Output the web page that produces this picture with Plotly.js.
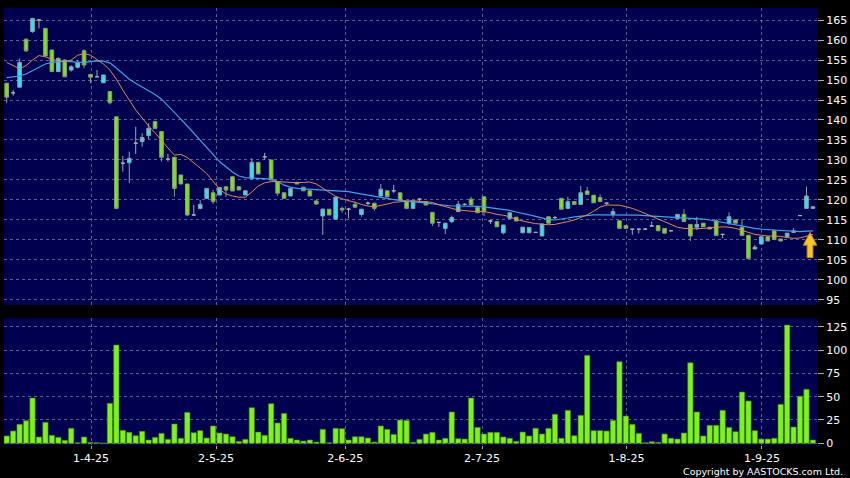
<!DOCTYPE html>
<html><head><meta charset="utf-8">
<script src="https://cdn.plot.ly/plotly-3.0.1.min.js"></script>
<style>html,body{margin:0;padding:0;background:#000;}#chart{width:850px;height:478px;}</style>
</head><body><div id="chart"></div>
<script>
// ---- data (index = trading day) ----
const openP  = [149.2,146.8,148.2,160.2,162.1,165.0,162.9,157.5,152.1,155.0,152.5,153.2,157.3,151.4,150.8,149.3,147.1,140.8,129.2,129.3,
                134.2,134.6,136.1,139.6,137.1,130.2,130.7,126.25,124.0,116.25,117.9,120.4,121.8,121.25,123.3,125.8,123.3,121.25,125.4,129.4,
                130.8,130.0,124.6,121.8,121.0,124.4,123.2,122.3,119.75,116.0,117.7,115.2,117.9,117.7,118.9,116.4,119.2,119.2,121.0,122.3,
                122.3,121.8,119.6,117.9,120.2,119.6,116.9,114.4,112.9,114.6,117.1,118.9,120.2,118.1,120.8,114.75,114.6,111.8,115.4,115.7,
                111.8,111.8,111.9,111.0,115.8,115.6,120.4,117.9,119.6,118.9,122.25,121.2,120.6,119.2,116.4,114.8,113.6,112.7,112.7,112.7,
                113.5,113.6,112.9,112.3,115.4,116.4,113.9,113.2,114.2,113.2,114.8,111.4,114.2,115.0,113.2,111.2,107.75,109.0,110.8,112.3,
                110.25,110.8,111.9,116.1,117.9,117.9];
const highP  = [149.2,147.5,155.4,160.4,165.5,165.0,163.0,157.6,155.6,155.2,153.7,155.0,157.7,151.4,152.5,151.3,147.1,140.8,131.0,132.1,
                138.3,136.7,139.2,139.8,137.2,131.5,130.7,126.3,124.0,118.75,120.0,122.9,122.5,123.1,123.3,126.0,123.5,122.3,130.4,129.4,
                131.8,130.0,124.6,121.8,122.9,124.6,123.2,122.3,120.0,117.9,117.7,120.8,118.3,118.0,119.6,117.7,119.6,119.2,124.0,122.3,
                123.75,121.8,119.6,119.75,120.4,119.6,116.9,114.4,114.2,116.1,119.75,119.2,120.8,118.1,120.8,115.0,114.6,113.75,116.8,115.7,
                113.2,113.1,111.9,114.0,115.8,116.0,120.4,120.8,119.6,123.5,123.3,121.2,121.4,119.2,117.9,114.8,113.6,112.7,112.7,113.0,
                114.6,113.6,112.9,112.3,116.4,117.7,113.9,115.8,114.2,113.2,115.2,111.4,116.9,115.2,115.2,111.2,108.75,110.8,110.8,112.3,
                110.25,111.7,113.0,116.1,123.3,118.3];
const lowP   = [144.2,146.1,148.2,157.0,161.8,162.9,156.0,152.1,152.0,150.8,152.1,152.9,152.9,149.2,150.8,149.3,143.9,117.9,127.1,124.2,
                131.5,133.3,135.2,137.9,129.6,129.6,120.8,124.0,116.0,116.25,117.7,120.2,119.0,121.25,120.7,122.25,122.5,121.25,125.0,126.5,
                130.0,125.0,121.0,120.4,121.0,124.0,122.3,121.0,118.75,111.25,116.25,115.0,116.8,115.4,118.2,115.8,118.75,117.3,120.8,120.8,
                121.8,120.0,117.9,117.9,119.6,118.75,113.5,113.3,111.5,114.2,117.1,118.6,118.75,116.8,116.0,114.0,113.3,111.4,115.4,114.75,
                111.8,111.8,111.9,111.0,114.2,115.2,117.7,117.9,118.9,118.9,121.4,119.3,119.6,118.6,115.6,112.9,112.9,111.3,111.6,112.7,
                113.5,112.3,111.7,112.3,115.4,114.6,109.75,112.5,113.3,112.75,111.1,110.4,113.75,114.2,111.1,105.4,107.75,109.0,109.75,110.1,
                109.75,110.8,111.9,116.1,117.9,117.9];
const closeP = [145.7,146.8,154.4,157.3,165.4,165.0,156.0,152.1,155.4,150.8,153.3,154.3,153.75,150.7,150.8,151.25,144.3,117.9,129.2,130.4,
                134.2,135.6,137.9,137.9,130.7,130.2,122.9,124.0,116.25,116.25,118.9,122.9,119.6,123.1,122.5,122.25,122.5,122.3,129.4,126.5,
                130.8,125.0,121.7,120.4,122.9,124.0,122.3,121.0,119.0,117.7,116.25,120.7,117.5,117.7,118.2,117.7,119.2,117.9,122.7,120.8,
                122.3,120.0,117.9,119.75,120.2,118.75,114.2,114.4,114.2,115.6,118.9,118.9,118.75,116.8,117.1,114.75,113.3,113.75,116.8,114.75,
                113.2,113.1,111.9,114.0,114.2,115.6,117.7,119.6,118.9,121.8,121.4,119.3,119.6,119.2,117.1,112.9,112.9,112.7,112.7,112.7,
                113.5,112.3,111.7,112.3,116.4,114.6,111.0,113.9,113.3,112.75,111.1,111.4,115.8,114.2,111.1,105.4,108.2,110.8,109.75,110.1,
                109.75,111.7,112.3,116.1,121.0,118.3];
const volume = [7.9,13.2,20.4,24.3,48.6,6.8,22.5,8.6,6.4,3.2,16.1,0.7,6.8,1.1,0.7,0.4,42.9,105.4,13.9,11.8,
                8.2,12.9,3.6,6.4,10.7,4.3,20.7,5.4,33.2,11.4,13.6,5.7,18.6,11.1,10,7.1,2.1,4.3,38.2,12.1,
                8.6,42.5,21.8,32.1,5.4,3.6,2.5,3.6,1.4,15,0.7,16.1,15.7,3.6,7.1,7.1,5.7,1.4,18.6,15,
                9.6,25,24.6,1.1,4.3,10,11.8,3.6,5.4,33.6,5,4.6,48.6,17.1,10,11.8,11.8,6.8,5.4,2.1,
                12.1,7.9,16.1,10,16.1,31.1,5.4,35.4,8.2,30,94.3,13.6,13.6,13.2,24.6,87.5,29.3,20.4,10.7,0.7,
                1.8,1.1,10,5.4,4.6,11.1,86.4,33.6,7.9,19.3,19.3,35.4,17.1,12.5,55,45.4,13.6,4.6,4.6,5.4,
                41.8,126.8,17.5,50.4,57.9,3.6];
const ma10 = [154.4,153.6,152.8,153.6,155.0,156.1,155.8,155.2,154.8,154.6,155.0,156.2,156.6,156.2,155.2,154.0,152.5,150.2,147.5,145.0,
              142.5,140.5,138.5,136.8,134.8,133.0,131.2,131.4,130.6,129.4,128.0,126.6,124.6,122.7,121.5,121.0,120.7,120.7,122.0,123.5,
              124.3,124.6,124.6,124.5,124.3,124.3,124.4,124.5,124.0,123.0,121.8,120.9,120.3,119.9,119.4,118.9,118.5,118.3,118.6,119.0,
              119.4,119.6,119.7,119.8,119.7,119.6,119.4,118.8,118.3,117.9,117.5,117.3,117.2,117.1,117.1,116.8,116.4,116.2,115.8,115.1,
              114.7,114.4,114.1,113.9,113.8,113.9,114.2,114.6,115.0,115.6,116.3,117.2,118.2,118.75,118.75,118.7,118.3,117.9,117.3,116.6,
              115.8,115.2,114.4,113.8,113.2,112.9,112.8,112.8,112.9,113.0,113.2,113.3,113.2,112.9,112.4,111.9,111.4,111.2,111.0,111.0,
              110.9,110.6,110.4,110.5,111.0,111.4];
const ma20 = [150.6,150.8,151.0,151.5,152.3,153.3,154.0,154.4,154.6,154.7,154.6,154.4,154.4,154.6,154.8,154.7,154.3,153.0,151.5,150.2,
              149.2,148.3,147.4,146.4,145.2,143.6,142.0,140.2,138.5,136.7,134.8,133.0,131.2,129.6,128.3,127.0,126.0,125.6,125.5,125.4,
              125.4,125.2,124.6,123.7,123.2,122.9,122.8,122.7,122.6,122.5,122.4,122.4,122.3,122.1,121.8,121.5,121.2,120.9,120.6,120.3,
              120.1,119.9,119.8,119.6,119.4,119.2,119.0,118.8,118.6,118.5,118.5,118.5,118.5,118.4,118.3,118.1,117.9,117.7,117.4,117.0,
              116.7,116.3,115.9,115.5,115.1,115.0,115.2,115.5,115.8,116.0,116.2,116.3,116.3,116.3,116.3,116.3,116.3,116.2,116.2,116.1,
              116.0,115.9,115.8,115.7,115.7,115.6,115.5,115.4,115.2,115.0,114.7,114.4,114.1,113.7,113.4,113.1,112.9,112.7,112.6,112.4,
              112.3,112.2,112.1,112.1,112.2,112.3];
const tickText = ["1-4-25","2-5-25","2-6-25","2-7-25","1-8-25","1-9-25"];
const tickPos  = [13.07, 32.45, 52.5, 73.7, 96.1, 117.1];

// ---- build traces ----
const idx = openP.map((_, i) => i);
const normal = idx.filter(i => openP[i] !== closeP[i]);
const dojis  = idx.filter(i => openP[i] === closeP[i]);
const pick = (arr, ids) => ids.map(i => arr[i]);
const candle = (ids, inc, dec) => ({
  type: 'candlestick', x: ids, open: pick(openP, ids), high: pick(highP, ids),
  low: pick(lowP, ids), close: pick(closeP, ids), xaxis: 'x2', yaxis: 'y',
  increasing: inc, decreasing: dec, whiskerwidth: 0, hoverinfo: 'skip'
});
const traces = [
  candle(normal, {line: {color: '#8da6ad', width: 1}, fillcolor: '#2fe2f0'},
                 {line: {color: '#86a07a', width: 1}, fillcolor: '#7de21c'}),
  candle(dojis,  {line: {color: '#a9a9b0', width: 1}, fillcolor: '#a9a9b0'},
                 {line: {color: '#a9a9b0', width: 1}, fillcolor: '#a9a9b0'}),
  {type: 'scatter', mode: 'lines', x: idx, y: ma20, xaxis: 'x2', yaxis: 'y',
   line: {color: '#3ea3e6', width: 1.2}, hoverinfo: 'skip'},
  {type: 'scatter', mode: 'lines', x: idx, y: ma10, xaxis: 'x2', yaxis: 'y',
   line: {color: '#e08a55', width: 1}, hoverinfo: 'skip'},
  {type: 'bar', x: idx, y: volume, xaxis: 'x', yaxis: 'y2',
   marker: {color: '#7ef21c', line: {color: '#3f7d14', width: 0.6}}, hoverinfo: 'skip'}
];

const grid = 'rgba(170,170,215,0.55)';
const tf = {family: 'DejaVu Sans, Verdana, sans-serif', size: 11, color: '#ffffff'};
const layout = {
  width: 850, height: 478, paper_bgcolor: '#000000', plot_bgcolor: '#00004e',
  margin: {l: 4, r: 33, t: 8, b: 33}, showlegend: false,
  boxgap: 0.2, bargap: 0.17,
  xaxis: {domain: [0, 1], anchor: 'y2', range: [-0.42, 125.63], tickmode: 'array',
          tickvals: tickPos, ticktext: tickText, ticks: 'outside', ticklen: 3, tickcolor: '#aaaaaa',
          showgrid: true, gridcolor: grid, griddash: '3px,3px', gridwidth: 1,
          zeroline: false, showline: false, tickfont: tf, rangeslider: {visible: false}, fixedrange: true},
  xaxis2: {domain: [0, 1], anchor: 'y', matches: 'x', tickmode: 'array', tickvals: tickPos,
           showticklabels: false, ticks: '', showgrid: true, gridcolor: grid, griddash: '3px,3px',
           zeroline: false, showline: false, rangeslider: {visible: false}, fixedrange: true},
  yaxis: {domain: [0.3204, 1], side: 'right', range: [93.75, 168], tick0: 0, dtick: 5,
          ticks: 'outside', ticklen: 6, tickcolor: '#aaaaaa', showgrid: true, gridcolor: grid,
          griddash: '3px,3px', zeroline: false, showline: false, tickfont: tf, fixedrange: true},
  yaxis2: {domain: [0, 0.2906], side: 'right', range: [-1.8, 134.3], tick0: 0, dtick: 25,
           ticks: 'outside', ticklen: 6, tickcolor: '#aaaaaa', showgrid: true, gridcolor: grid,
           griddash: '3px,3px', zeroline: false, showline: false, tickfont: tf, fixedrange: true},
  shapes: [{type: 'path', xref: 'x2', yref: 'y', layer: 'above',
            path: 'M 124.55 111.9 L 125.6 108.7 L 125.0 108.7 L 125.0 105.6 L 124.1 105.6 L 124.1 108.7 L 123.5 108.7 Z',
            fillcolor: '#f7c42a', line: {color: '#c08a10', width: 1}}],
  annotations: [{xref: 'paper', yref: 'paper', x: 1.0344, y: -0.0595, xanchor: 'right', yanchor: 'middle',
                 text: 'Copyright by AASTOCKS.com Ltd.', showarrow: false,
                 font: {family: 'DejaVu Sans, Verdana, sans-serif', size: 9.5, color: '#ffffff'}}]
};
Plotly.newPlot('chart', traces, layout, {displayModeBar: false, staticPlot: true});
</script>
</body></html>
